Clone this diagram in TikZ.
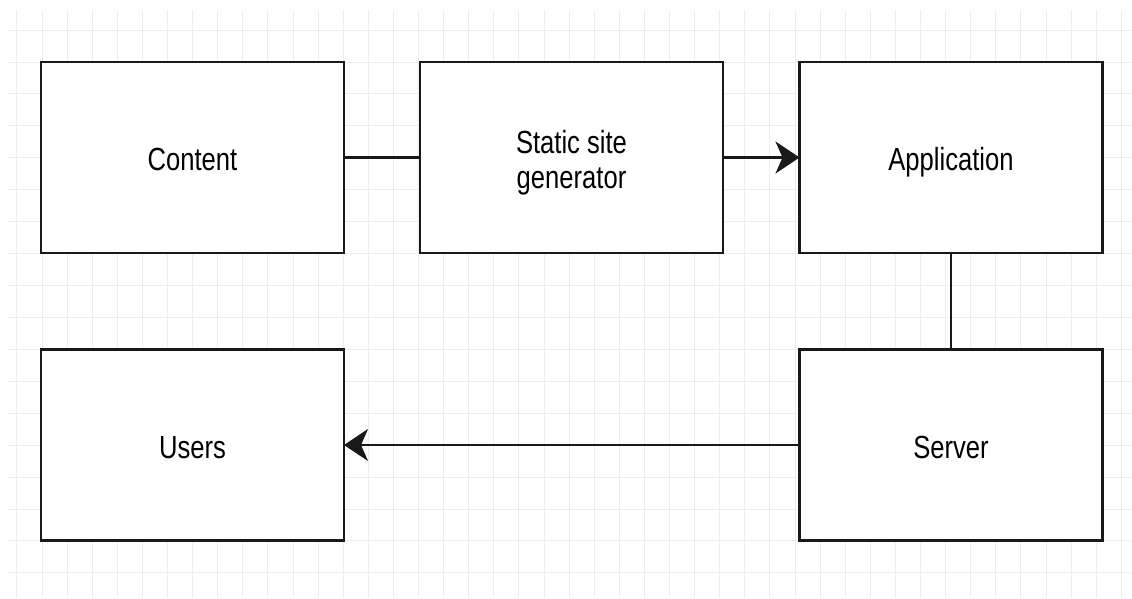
\documentclass[tikz,border=0pt]{standalone}
\usepackage{fontspec}
\setmainfont{Liberation Sans}
\usetikzlibrary{arrows.meta}

\tikzset{
  gridline/.style={draw=black!7, line width=1pt},
  block/.style={draw=black!90, line width=2.5pt, rectangle, fill=white,
    minimum width=303pt, minimum height=191pt, inner sep=0pt, outer sep=0pt,
    font=\fontsize{32}{35}\selectfont},
  link/.style={draw=black!90, line width=2.5pt},
  flow/.style={link, -{Stealth[length=24pt, width=32pt, inset=7pt]}}
}
\newcommand{\boxtext}[1]{\raisebox{-6pt}[\height][\depth]{\scalebox{0.8}[1]{\begin{tabular}{@{}c@{}}#1\end{tabular}}}}

\begin{document}
\begin{tikzpicture}[x=1pt, y=-1pt]
  \useasboundingbox (0,0) rectangle (1132,598);
  \fill[white] (0,0) rectangle (1132,598);

  % background grid
  \foreach \k in {-1,...,43} {
    \draw[gridline] ({42+25.1*\k},10) -- ({42+25.1*\k},598);
  }
  \foreach \k in {-1,...,16} {
    \draw[gridline] (8,{62+31.93*\k}) -- (1132,{62+31.93*\k});
  }

  % blocks
  \node[block] (content) at (192.5,157.5) {\boxtext{Content}};
  \node[block] (ssg)     at (571.5,157.5) {\boxtext{Static site\\generator}};
  \node[block] (app)     at (951,157.5)   {\boxtext{Application}};
  \node[block] (users)   at (192.5,445)   {\boxtext{Users}};
  \node[block] (server)  at (951,445)     {\boxtext{Server}};

  % connectors
  \draw[link] (content.east) -- (ssg.west);
  \draw[flow] (ssg.east) -- (app.west);
  \draw[link] (app.south) -- (server.north);
  \draw[flow] (server.west) -- (users.east);
\end{tikzpicture}
\end{document}
